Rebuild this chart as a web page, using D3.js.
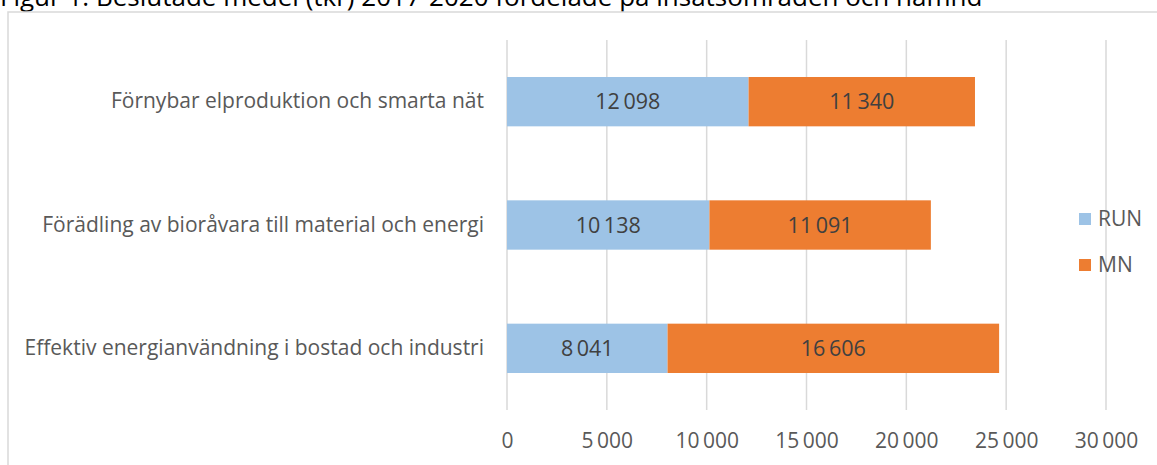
<!DOCTYPE html>
<html>
<head>
<meta charset="utf-8">
<script src="https://cdn.jsdelivr.net/npm/d3@7"></script>
<style>
  body { margin: 0; background: #fff; overflow: hidden; }
  svg { display: block; font-family: "Open Sans", sans-serif; }
</style>
</head>
<body>
<svg id="chart" width="1157" height="465"></svg>
<script>
// Beslutade medel (tkr) per insatsområde och nämnd
var categories = [
  "Förnybar elproduktion och smarta nät",
  "Förädling av bioråvara till material och energi",
  "Effektiv energianvändning i bostad och industri"
];
var series = ["RUN", "MN"];
var runValues = [12098, 10138, 8041];
var mnValues = [11340, 11091, 16606];
var xTicks = [0, 5000, 10000, 15000, 20000, 25000, 30000];
var colors = {RUN: "#9dc3e6", MN: "#ed7d31"};

var svg = d3.select("#chart");
var fmt = d3.formatLocale({decimal: ",", thousands: "\u2009", grouping: [3], currency: ["", " kr"]}).format(",d");

var rows = categories.map(function(c, i) { return {cat: c, RUN: runValues[i], MN: mnValues[i]}; });
var stacked = d3.stack().keys(series)(rows);

var x = d3.scaleLinear().domain([0, 30000]).range([507, 1106]);
var y = d3.scaleBand().domain(categories).range([40, 410]).paddingInner(0.6).paddingOuter(0.3);

// title (cut off at the top in the original)
svg.append("text")
  .attr("x", 0)
  .attr("y", 6)
  .attr("fill", "#000")
  .style("font-size", "26px")
  .text("Figur 1. Beslutade medel (tkr) 2017-2020 fördelade på insatsområden och nämnd");

// chart frame
svg.append("rect")
  .attr("x", 8)
  .attr("y", 12)
  .attr("width", 1170)
  .attr("height", 470)
  .attr("fill", "none")
  .attr("stroke", "#d9d9d9")
  .attr("stroke-width", 1.5);

// gridlines
svg.append("g")
  .selectAll("line")
  .data(xTicks)
  .enter().append("line")
    .attr("x1", function(d) { return x(d); })
    .attr("x2", function(d) { return x(d); })
    .attr("y1", 40)
    .attr("y2", 410)
    .attr("stroke", "#d9d9d9")
    .attr("stroke-width", 1.5);

// x axis labels
var xAxis = svg.append("g")
  .attr("transform", "translate(0,410)")
  .call(d3.axisBottom(x).tickValues(xTicks).tickFormat(fmt).tickSize(0).tickPadding(23));
xAxis.select(".domain").remove();
xAxis.selectAll("text")
  .attr("fill", "#595959")
  .style("font-family", "'Open Sans', sans-serif")
  .style("font-size", "21px");

// category labels
var yAxis = svg.append("g")
  .attr("transform", "translate(484,0)")
  .call(d3.axisLeft(y).tickSize(0).tickPadding(0));
yAxis.select(".domain").remove();
yAxis.selectAll("text")
  .attr("fill", "#595959")
  .style("font-family", "'Open Sans', sans-serif")
  .style("font-size", "21px");

// bars
var layer = svg.append("g")
  .selectAll("g")
  .data(stacked)
  .enter().append("g")
    .attr("fill", function(d) { return colors[d.key]; });

layer.selectAll("rect")
  .data(function(d) { return d; })
  .enter().append("rect")
    .attr("x", function(d) { return x(d[0]); })
    .attr("y", function(d) { return y(d.data.cat); })
    .attr("width", function(d) { return x(d[1]) - x(d[0]); })
    .attr("height", y.bandwidth());

// value labels
var labels = svg.append("g");
stacked.forEach(function(s) {
  labels.selectAll("text.v-" + s.key)
    .data(s)
    .enter().append("text")
      .attr("class", "v-" + s.key)
      .attr("x", function(d) { return (x(d[0]) + x(d[1])) / 2; })
      .attr("y", function(d) { return y(d.data.cat) + y.bandwidth() / 2; })
      .attr("dy", "0.35em")
      .attr("text-anchor", "middle")
      .attr("fill", "#404040")
      .style("font-size", "21.5px")
      .text(function(d) { return fmt(d[1] - d[0]); });
});

// legend
var legend = svg.append("g")
  .selectAll("g")
  .data(series)
  .enter().append("g")
    .attr("transform", function(d, i) { return "translate(1079," + (219 + i * 46) + ")"; });
legend.append("rect")
  .attr("x", 0)
  .attr("y", -6)
  .attr("width", 12)
  .attr("height", 12)
  .attr("fill", function(d) { return colors[d]; });
legend.append("text")
  .attr("x", 19)
  .attr("dy", "0.35em")
  .attr("fill", "#595959")
  .style("font-size", "21px")
  .text(function(d) { return d; });
</script>
</body>
</html>
